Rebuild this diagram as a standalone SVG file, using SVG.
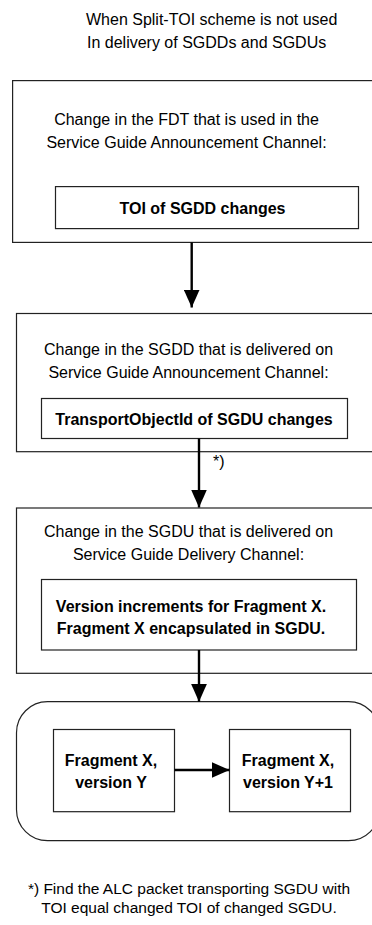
<svg xmlns="http://www.w3.org/2000/svg" width="372" height="925" viewBox="0 0 372 925">
<style>
text{font-family:"Liberation Sans",Arial,Helvetica,sans-serif;fill:#000}
.t{font-size:16px}
.f{font-size:15.5px}
.b{font-size:16px;font-weight:bold}
.m{text-anchor:middle}
.box{fill:#fff;stroke:#222;stroke-width:1.2}
.conn{stroke:#000;stroke-width:2.4;fill:none}
</style>
<defs>
<marker id="ah" viewBox="0 0 18 16" refX="18" refY="8" markerWidth="18" markerHeight="16" markerUnits="userSpaceOnUse" orient="auto">
<path d="M0,0 L18,8 L0,16 Z" fill="#000"/>
</marker>
</defs>
<rect width="372" height="925" fill="#fff"/>
<g id="title">
<text class="t" x="86" y="25">When Split-TOI scheme is not used</text>
<text class="t" x="87" y="47.5">In delivery of SGDDs and SGDUs</text>
</g>
<g id="fdt">
<rect class="box" x="12.6" y="80.6" width="380" height="161.8"/>
<text class="t m" x="186.5" y="125">Change in the FDT that is used in the</text>
<text class="t m" x="186.5" y="148">Service Guide Announcement Channel:</text>
<rect class="box" x="55.5" y="186.6" width="303" height="42"/>
<text class="b m" x="202.5" y="213.5">TOI of SGDD changes</text>
</g>
<g id="sgdd">
<rect class="box" x="16.5" y="313.5" width="380" height="138.2"/>
<text class="t m" x="188.5" y="355">Change in the SGDD that is delivered on</text>
<text class="t m" x="188.5" y="378">Service Guide Announcement Channel:</text>
<rect class="box" x="41.5" y="398.5" width="306" height="40"/>
<text class="b m" x="194" y="425">TransportObjectId of SGDU changes</text>
</g>
<g id="sgdu">
<rect class="box" x="16.5" y="508" width="380" height="165.3"/>
<text class="t m" x="188.5" y="537">Change in the SGDU that is delivered on</text>
<text class="t m" x="188.5" y="560">Service Guide Delivery Channel:</text>
<rect class="box" x="41.5" y="579.5" width="315" height="70.5"/>
<text class="b m" x="191" y="612">Version increments for Fragment X.</text>
<text class="b m" x="191" y="634">Fragment X encapsulated in SGDU.</text>
</g>
<g id="fragments">
<rect class="box" x="16.5" y="701.7" width="363" height="139" rx="31" ry="31"/>
</g>
<g id="fragY">
<rect class="box" x="53.5" y="729.5" width="121" height="82.2"/>
<text class="b m" x="111" y="766">Fragment X,</text>
<text class="b m" x="111" y="788">version Y</text>
</g>
<g id="fragY1">
<rect class="box" x="229.5" y="729.5" width="121" height="82.2"/>
<text class="b m" x="288" y="766">Fragment X,</text>
<text class="b m" x="288" y="788">version Y+1</text>
</g>
<g id="connectors">
<line class="conn" x1="191.7" y1="242.4" x2="191.7" y2="307.5" marker-end="url(#ah)"/>
<line class="conn" x1="199" y1="438.5" x2="199" y2="507.5" marker-end="url(#ah)"/>
<text class="t" x="213" y="467">*)</text>
<line class="conn" x1="199" y1="650" x2="199" y2="701.7" marker-end="url(#ah)"/>
<line class="conn" x1="174.5" y1="770" x2="229.5" y2="770" marker-end="url(#ah)"/>
</g>
<g id="footnote">
<text class="f m" x="189" y="894">*) Find the ALC packet transporting SGDU with</text>
<text class="f m" x="189" y="913">TOI equal changed TOI of changed SGDU.</text>
</g>
</svg>
